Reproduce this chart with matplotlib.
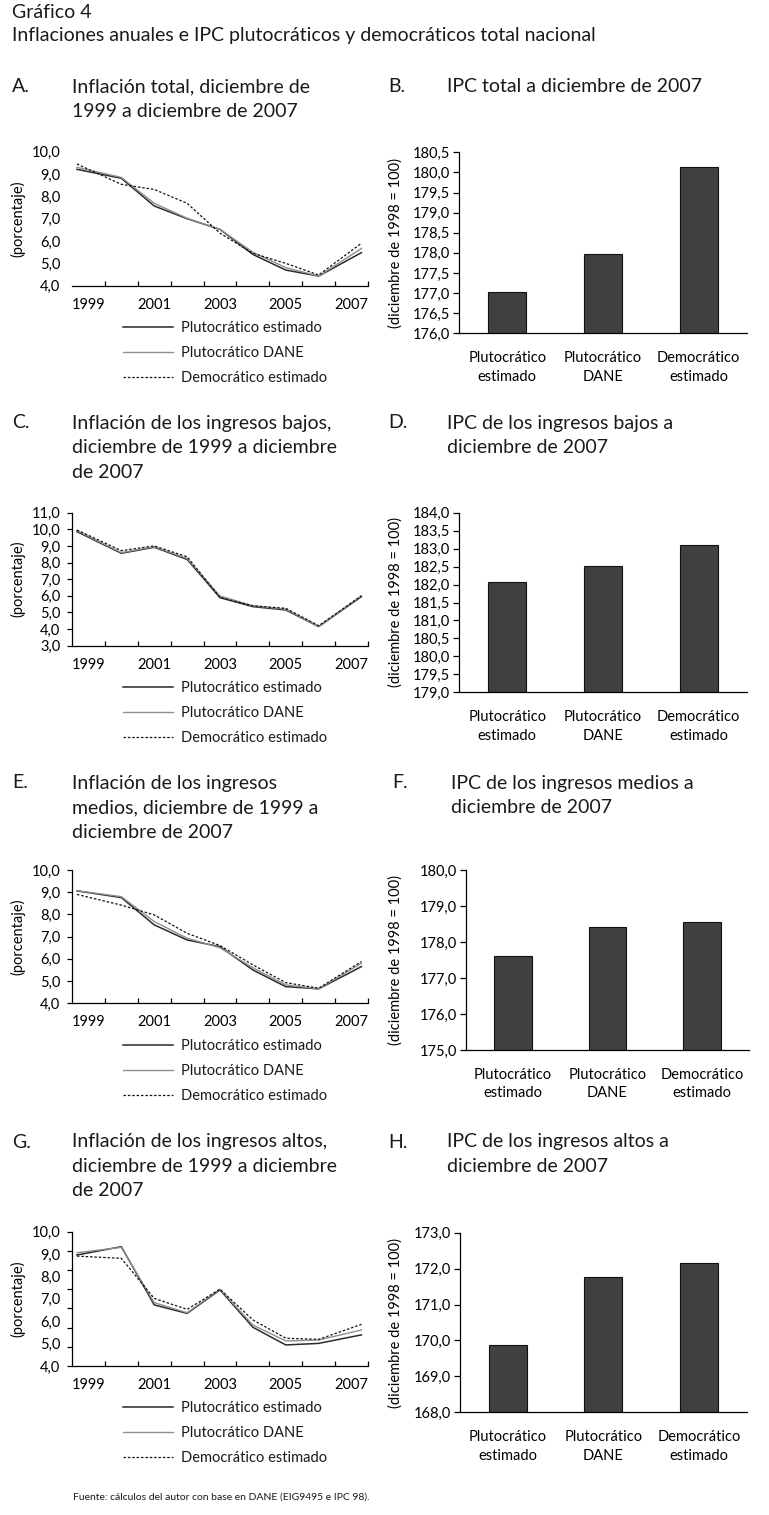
import matplotlib
matplotlib.use('Agg')
import matplotlib.pyplot as plt
from matplotlib.ticker import FuncFormatter
from matplotlib.lines import Line2D
import numpy as np

W, H = 769, 1515
plt.rcParams['font.family'] = ['Lato', 'DejaVu Sans']
plt.rcParams['text.color'] = '#1a1a1a'

# ---- data ----
year_labels = ['1999', '2001', '2003', '2005', '2007']
# x position of each observation, in category units (axis runs 0..9)
x_obs = [0.15, 1.5, 2.5, 3.5, 4.5, 5.5, 6.5, 7.5, 8.8]
series_names = ['Plutocrático estimado', 'Plutocrático DANE', 'Democrático estimado']

a_plut_est = [9.21, 8.81, 7.57, 7.00, 6.52, 5.40, 4.70, 4.43, 5.48]
a_plut_dane = [9.30, 8.85, 7.69, 7.02, 6.52, 5.50, 4.81, 4.43, 5.67]
a_demo_est = [9.45, 8.54, 8.31, 7.69, 6.35, 5.45, 5.00, 4.48, 5.90]

c_plut_est = [9.86, 8.56, 8.92, 8.19, 5.89, 5.35, 5.15, 4.15, 5.95]
c_plut_dane = [9.92, 8.60, 8.95, 8.25, 5.99, 5.40, 5.20, 4.15, 6.00]
c_demo_est = [9.96, 8.72, 9.00, 8.35, 5.90, 5.40, 5.25, 4.20, 6.00]

e_plut_est = [9.06, 8.76, 7.53, 6.85, 6.55, 5.50, 4.75, 4.65, 5.65]
e_plut_dane = [9.07, 8.80, 7.68, 6.93, 6.50, 5.60, 4.83, 4.65, 5.80]
e_demo_est = [8.90, 8.42, 7.98, 7.15, 6.60, 5.73, 4.93, 4.68, 5.88]

g_plut_est = [8.96, 9.33, 6.73, 6.35, 7.40, 5.73, 4.94, 5.01, 5.39]
g_plut_dane = [9.06, 9.30, 6.83, 6.38, 7.43, 5.83, 5.12, 5.16, 5.61]
g_demo_est = [8.91, 8.81, 7.02, 6.53, 7.43, 6.06, 5.24, 5.19, 5.86]

bar_cats = ['Plutocrático\nestimado', 'Plutocrático\nDANE', 'Democrático\nestimado']
b_ipc = [177.02, 177.96, 180.13]
d_ipc = [182.06, 182.51, 183.09]
f_ipc = [177.62, 178.43, 178.55]
h_ipc = [169.86, 171.76, 172.15]


def box(left, top, right, bottom):
    return [left / W, 1 - bottom / H, (right - left) / W, (bottom - top) / H]


def comma(v, pos=None):
    return f'{v:.1f}'.replace('.', ',')


line_styles = [dict(color='#2a2a2a', lw=1.1, ls='-'),
               dict(color='#8f8f8f', lw=1.0, ls='-'),
               dict(color='#111111', lw=0.9, ls=(0, (2.0, 1.5)))]

tick_fs = 10.5


def line_panel(fig, rect, series, ymin, ymax, legend_top, left_spine=True, odd_ticks=False):
    ax = fig.add_axes(box(*rect))
    for vals, st in zip(series, line_styles):
        ax.plot(x_obs, vals, **st)
    ax.set_xlim(0, 9)
    ax.set_ylim(ymin, ymax)
    for s in ['top', 'right']:
        ax.spines[s].set_visible(False)
    ax.spines['bottom'].set_linewidth(0.9)
    ax.spines['left'].set_linewidth(0.9)
    ax.spines['left'].set_visible(left_spine)
    ax.xaxis.remove_overlapping_locs = False
    ax.yaxis.remove_overlapping_locs = False
    ax.set_xticks(range(1, 10))
    ax.set_xticklabels([])
    ax.set_xticks(np.arange(0.5, 9, 2), minor=True)
    ax.set_xticklabels(year_labels, minor=True)
    ax.tick_params(axis='x', which='major', direction='in', length=3.5, width=0.9)
    ax.tick_params(axis='x', which='minor', length=0, pad=8.5, labelsize=tick_fs)
    yt = np.arange(ymin, ymax + 0.01, 1.0)
    if odd_ticks:
        ax.set_yticks(np.linspace(ymin, ymax, 8))
        ax.set_yticklabels([])
        ax.set_yticks(yt, minor=True)
        ax.set_yticklabels([comma(v) for v in yt], minor=True)
        ax.tick_params(axis='y', which='major', direction='out', length=3.5, width=0.9)
        ax.tick_params(axis='y', which='minor', length=0, pad=8.5, labelsize=tick_fs)
    else:
        ax.set_yticks(yt)
        ax.yaxis.set_major_formatter(FuncFormatter(comma))
        if left_spine:
            ax.tick_params(axis='y', direction='out', length=3.5, width=0.9, pad=5, labelsize=tick_fs)
        else:
            ax.tick_params(axis='y', length=0, pad=8.5, labelsize=tick_fs)
    ax.set_ylabel('(porcentaje)', fontsize=tick_fs)
    ax.yaxis.set_label_coords((25 - rect[0]) / (rect[2] - rect[0]), 0.5)
    handles = [Line2D([], [], **st) for st in line_styles]
    ax.legend(handles, series_names, loc='upper left',
              bbox_to_anchor=(123 / W, 1 - legend_top / H), bbox_transform=fig.transFigure,
              frameon=False, borderpad=0, borderaxespad=0, handlelength=3.4,
              handletextpad=0.55, labelspacing=0.75, fontsize=tick_fs)
    return ax


def bar_panel(fig, rect, vals, ymin, ymax, step):
    ax = fig.add_axes(box(*rect))
    ax.bar(range(len(bar_cats)), np.array(vals) - ymin, bottom=ymin, width=0.4,
           color='#404040', edgecolor='#111111', linewidth=0.8)
    ax.set_xlim(-0.5, 2.5)
    ax.set_ylim(ymin, ymax)
    for s in ['top', 'right']:
        ax.spines[s].set_visible(False)
    ax.spines['bottom'].set_linewidth(0.9)
    ax.spines['left'].set_linewidth(0.9)
    ax.set_yticks(np.arange(ymin, ymax + step / 10, step))
    ax.yaxis.set_major_formatter(FuncFormatter(comma))
    ax.set_xticks(range(len(bar_cats)))
    ax.set_xticklabels(bar_cats, linespacing=1.4)
    ax.tick_params(axis='x', length=0, pad=13, labelsize=tick_fs)
    ax.tick_params(axis='y', direction='out', length=4, width=0.9, pad=2.5, labelsize=tick_fs)
    ax.set_ylabel('(diciembre de 1998 = 100)', fontsize=tick_fs)
    ax.yaxis.set_label_coords((403 - rect[0]) / (rect[2] - rect[0]), 0.5)
    return ax


fig = plt.figure(figsize=(W / 100, H / 100), dpi=100)

title_fs = 14
fig.text(12 / W, 1 - 12 / H, 'Gráfico 4', fontsize=title_fs, va='center')
fig.text(12 / W, 1 - 36 / H, 'Inflaciones anuales e IPC plutocráticos y democráticos total nacional',
         fontsize=title_fs, va='center')

panel_titles = [
    ('A.', 12, 72, 87, ['Inflación total, diciembre de', '1999 a diciembre de 2007']),
    ('B.', 388, 447, 87, ['IPC total a diciembre de 2007']),
    ('C.', 12, 72, 423, ['Inflación de los ingresos bajos,', 'diciembre de 1999 a diciembre', 'de 2007']),
    ('D.', 388, 447, 423, ['IPC de los ingresos bajos a', 'diciembre de 2007']),
    ('E.', 12, 72, 783, ['Inflación de los ingresos', 'medios, diciembre de 1999 a', 'diciembre de 2007']),
    ('F.', 392, 451, 783, ['IPC de los ingresos medios a', 'diciembre de 2007']),
    ('G.', 12, 72, 1142, ['Inflación de los ingresos altos,', 'diciembre de 1999 a diciembre', 'de 2007']),
    ('H.', 388, 447, 1142, ['IPC de los ingresos altos a', 'diciembre de 2007']),
]
for letter, lx, tx, y0, lines in panel_titles:
    fig.text(lx / W, 1 - y0 / H, letter, fontsize=title_fs, va='center')
    for i, ln in enumerate(lines):
        fig.text(tx / W, 1 - (y0 + 24.5 * i) / H, ln, fontsize=title_fs, va='center')

line_panel(fig, (72, 151.7, 368, 285.7), [a_plut_est, a_plut_dane, a_demo_est], 4, 10, 321, left_spine=False)
line_panel(fig, (72, 512.7, 368, 645.7), [c_plut_est, c_plut_dane, c_demo_est], 3, 11, 681)
line_panel(fig, (72, 870, 368, 1003.3), [e_plut_est, e_plut_dane, e_demo_est], 4, 10, 1039)
line_panel(fig, (72, 1231.7, 368, 1366), [g_plut_est, g_plut_dane, g_demo_est], 4, 10, 1401, odd_ticks=True)

bar_panel(fig, (459.3, 152.3, 746.7, 333.3), b_ipc, 176.0, 180.5, 0.5)
bar_panel(fig, (459.3, 512.7, 746.7, 692.3), d_ipc, 179.0, 184.0, 0.5)
bar_panel(fig, (466, 870, 749, 1050), f_ipc, 175.0, 180.0, 1.0)
bar_panel(fig, (460, 1232.7, 746.7, 1412.3), h_ipc, 168.0, 173.0, 1.0)

fig.text(73 / W, 1 - 1497 / H, 'Fuente: cálculos del autor con base en DANE (EIG9495 e IPC 98).',
         fontsize=7.5, va='center')

fig.savefig('out.png', dpi=100)
